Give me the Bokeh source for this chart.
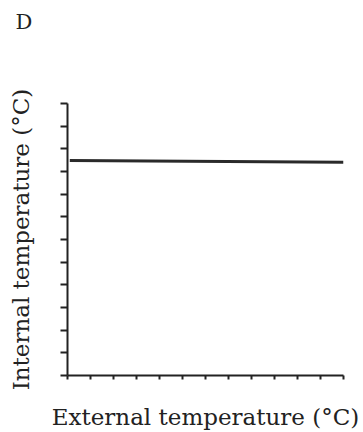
from bokeh.plotting import figure
from bokeh.models import FixedTicker, Range1d, Title
from bokeh.layouts import column
from bokeh.embed import file_html
from bokeh.resources import INLINE

# Data (arbitrary units along each axis, 12 tick intervals)
ext_temp = [0.1, 12.0]
int_temp = [9.48, 9.41]
tick_positions = list(range(0, 13))
panel_letter = "D"
x_label = "External temperature (°C)"
y_label = "Internal temperature (°C)"

FONT = "DejaVu Serif"
INK = "#222222"
W = 363
HEAD_H = 45

# Header strip holding the panel letter as its title
head = figure(width=W, height=HEAD_H, output_backend="svg", toolbar_location=None,
              x_range=Range1d(0, 1), y_range=Range1d(0, 1),
              min_border=0, x_axis_type=None, y_axis_type=None)
head.title = Title(text=panel_letter, align="left", offset=-52, standoff=14,
                   text_font=FONT, text_font_size="21px", text_font_style="normal",
                   text_color=INK)
head.outline_line_color = None
head.xgrid.visible = False
head.ygrid.visible = False

# Main chart
p = figure(width=W, height=432 - HEAD_H, output_backend="svg", toolbar_location=None,
           x_range=Range1d(0, 12), y_range=Range1d(0, 12),
           min_border_left=67, min_border_right=20,
           min_border_top=103 - HEAD_H, min_border_bottom=57)
p.outline_line_color = None
p.xgrid.visible = False
p.ygrid.visible = False
p.background_fill_color = "white"
p.border_fill_color = "white"

p.line(ext_temp, int_temp, line_width=3, line_color="#2a2a2a")

for ax in (p.xaxis[0], p.yaxis[0]):
    ax.ticker = FixedTicker(ticks=tick_positions)
    ax.major_label_overrides = {t: "" for t in tick_positions}
    ax.minor_tick_line_color = None
    ax.major_tick_in = 0
    ax.major_label_standoff = 0
    ax.axis_line_color = INK
    ax.axis_line_width = 2
    ax.major_tick_line_color = INK
    ax.major_tick_line_width = 2
    ax.axis_label_text_font = FONT
    ax.axis_label_text_font_style = "normal"
    ax.axis_label_text_font_size = "23px"
    ax.axis_label_text_color = INK

p.xaxis[0].major_tick_out = 4
p.yaxis[0].major_tick_out = 7
p.xaxis[0].axis_label = x_label
p.yaxis[0].axis_label = y_label
p.xaxis[0].axis_label_standoff = 24
p.yaxis[0].axis_label_standoff = 27

layout = column(head, p, spacing=0)
open("out.html", "w").write(file_html(layout, INLINE))
